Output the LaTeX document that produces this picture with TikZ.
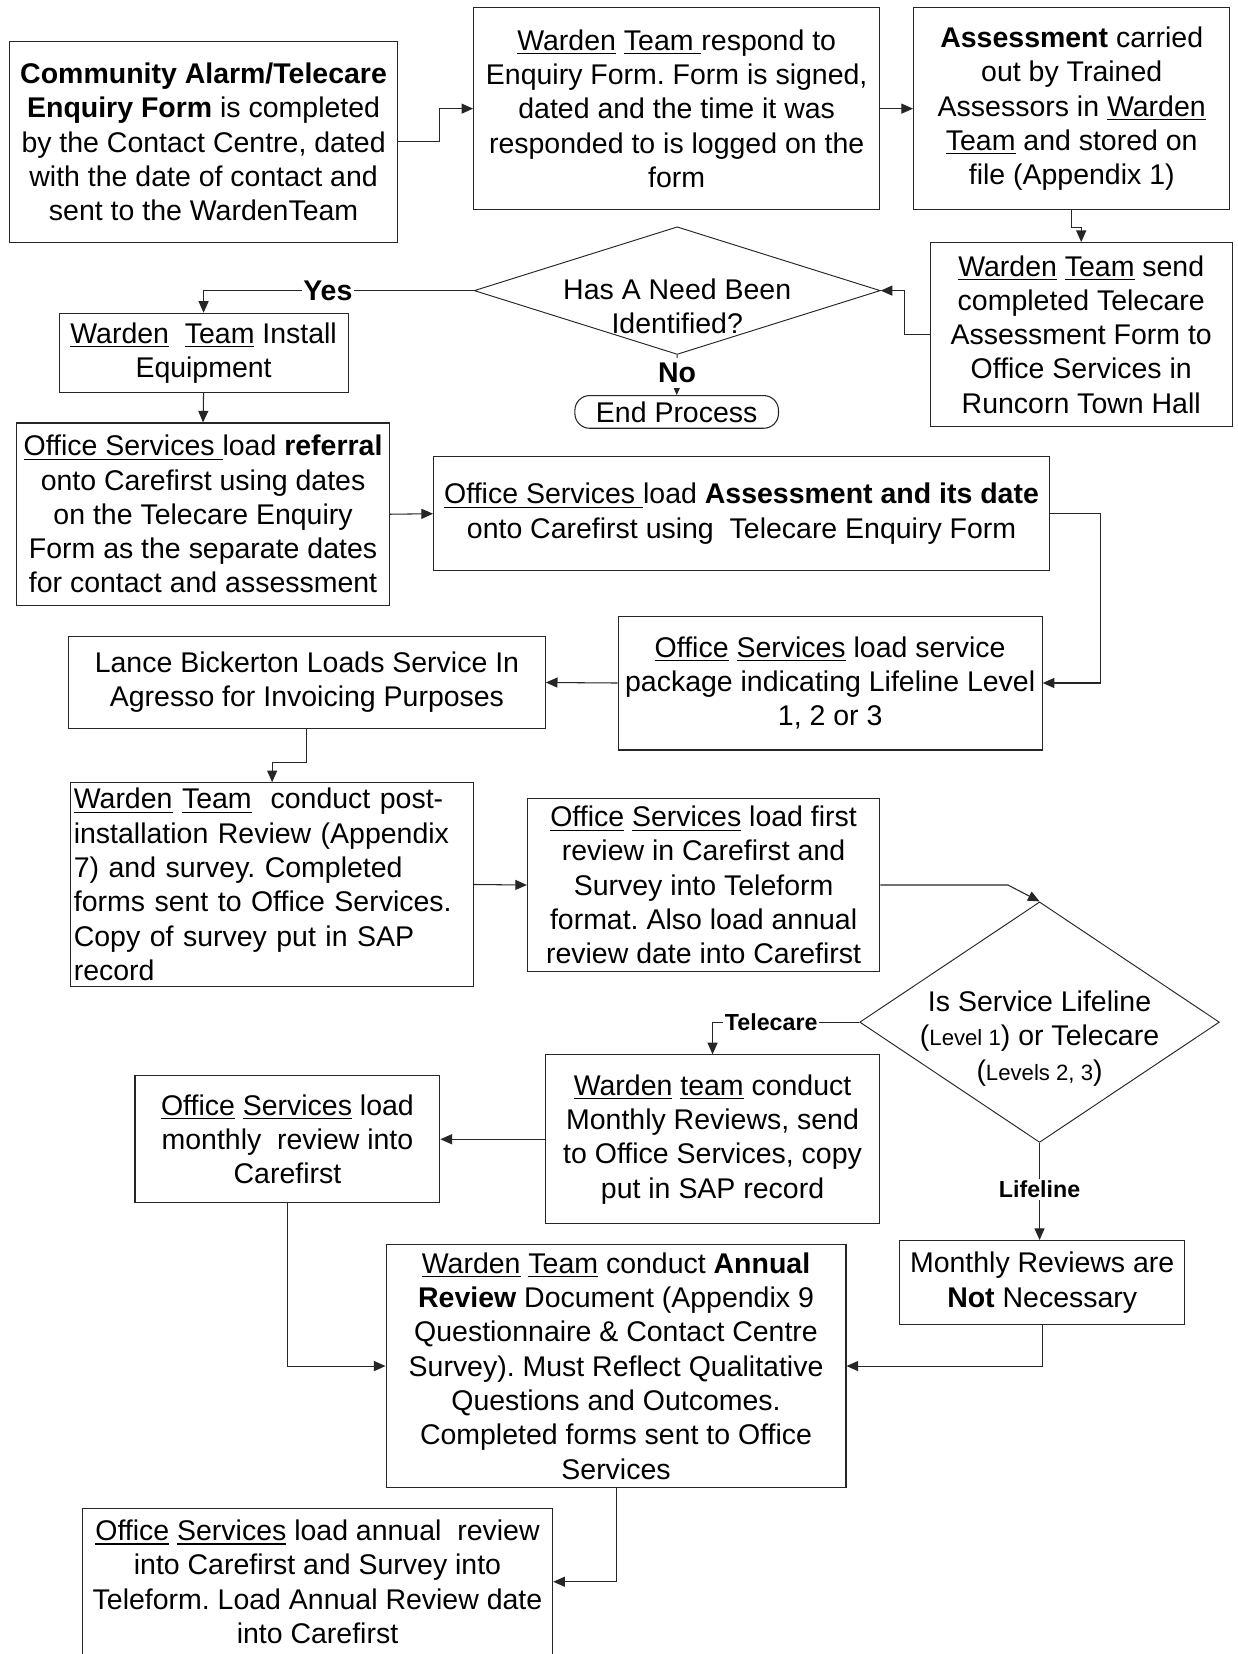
\documentclass[tikz,border=0pt]{standalone}
\usepackage{fontspec}
\setmainfont{Liberation Sans}
\usetikzlibrary{arrows.meta,shapes.geometric}
\frenchspacing
\newcommand{\mainfs}{\fontsize{27}{32.5}\selectfont}
\newcommand{\smallfs}{\fontsize{21}{25}\selectfont}
\newcommand{\uln}[1]{\leavevmode\vtop{\hbox{#1}\kern2.5pt\hrule height 1.1pt}}
\tikzset{
  box/.style={draw=black!85, line width=1pt, rectangle, inner sep=0pt, align=center, font=\mainfs},
  dia/.style={diamond, draw=black!85, line width=0.9pt, inner sep=0pt},
  arr/.style={draw=black!85, line width=1pt, -{Triangle[length=11pt,width=9.5pt]}},
  lab/.style={fill=white, inner sep=1.5pt, font=\bfseries\mainfs},
  slab/.style={fill=white, inner sep=1.5pt, font=\bfseries\fontsize{22}{26}\selectfont},
}
\begin{document}
\begin{tikzpicture}[x=1pt,y=-1pt]
\useasboundingbox (0,0) rectangle (1173,1568);
\fill[white] (0,0) rectangle (1173,1568);

\node[box, minimum width=368pt, minimum height=191pt] (A) at (193,134.5)
  {\textbf{Community Alarm/Telecare}\\ \textbf{Enquiry Form} is completed\\ by the Contact Centre, dated\\ with the date of contact and\\ sent to the WardenTeam};
\node[box, minimum width=385pt, minimum height=192pt] (B) at (641.5,103)
  {\uln{Warden} \uln{Team\ }respond to\\ Enquiry Form. Form is signed,\\ dated and the time it was\\ responded to is logged on the\\ form};
\node[box, minimum width=300pt, minimum height=192pt] (C) at (1016,103)
  {\textbf{Assessment} carried\\ out by Trained\\ Assessors in \uln{Warden}\\ \uln{Team} and stored on\\ file (Appendix 1)};
\node[box, minimum width=286pt, minimum height=174pt] (D) at (1025,317)
  {\uln{Warden} \uln{Team} send\\ completed Telecare\\ Assessment Form to\\ Office Services in\\ Runcorn Town Hall};

\node[dia, minimum width=385pt, minimum height=121pt] (d1) at (642,275.5) {};
\node[font=\mainfs, align=center] (d1t) at (642,290.5) {Has A Need Been\\ Identified?};

\node[box, minimum width=274pt, minimum height=75pt] (E) at (193,334.5)
  {\uln{Warden}\ \ \uln{Team} Install\\ Equipment};
\node[box, rounded corners=14pt, minimum width=193pt, minimum height=31pt] (End) at (641.5,390.5) {End Process};

\node[box, minimum width=353pt, minimum height=173pt] (F) at (192.5,487.5)
  {\uln{Office Services\ }load \textbf{referral}\\ onto Carefirst using dates\\ on the Telecare Enquiry\\ Form as the separate dates\\ for contact and assessment};
\node[box, minimum width=584pt, minimum height=108pt] (G) at (703,487)
  {\uln{Office Services\ }load \textbf{Assessment and its date}\\ onto Carefirst using\ \ Telecare Enquiry Form};
\node[box, minimum width=402pt, minimum height=127pt] (H) at (787,647.5)
  {\uln{Office} \uln{Services} load service\\ package indicating Lifeline Level\\ 1, 2 or 3};
\node[box, minimum width=452pt, minimum height=88pt] (I) at (291,647)
  {Lance Bickerton Loads Service In\\ Agresso for Invoicing Purposes};
\node[box, align=left, text width=376pt, inner xsep=3pt, minimum width=382pt, minimum height=193pt] (J) at (258,838.5)
  {\uln{Warden} \uln{Team}\ \ conduct post-\\ installation Review (Appendix\\ 7) and survey. Completed\\ forms sent to Office Services.\\ Copy of survey put in SAP\\ record};
\node[box, minimum width=334pt, minimum height=164pt] (K) at (667,839)
  {\uln{Office} \uln{Services} load first\\ review in Carefirst and\\ Survey into Teleform\\ format. Also load annual\\ review date into Carefirst};

\node[dia, minimum width=341pt, minimum height=228pt] (d2) at (985.5,969) {};
\node[font=\mainfs, align=center] (d2t) at (985.5,984.5)
  {Is Service Lifeline\\ ({\smallfs Level 1}) or Telecare\\ ({\smallfs Levels 2, 3})};

\node[box, minimum width=317pt, minimum height=160pt] (L) at (675.5,1080)
  {\uln{Warden} \uln{team} conduct\\ Monthly Reviews, send\\ to Office Services, copy\\ put in SAP record};
\node[box, minimum width=289pt, minimum height=120pt] (M) at (272.5,1080)
  {\uln{Office} \uln{Services} load\\ monthly\ \ review into\\ Carefirst};
\node[box, minimum width=270pt, minimum height=80pt] (N) at (988,1216)
  {Monthly Reviews are\\ \textbf{Not} Necessary};
\node[box, minimum width=436pt, minimum height=230pt] (O) at (584,1295)
  {\uln{Warden} \uln{Team} conduct \textbf{Annual}\\ \textbf{Review} Document (Appendix 9\\ Questionnaire \& Contact Centre\\ Survey). Must Reflect Qualitative\\ Questions and Outcomes.\\ Completed forms sent to Office\\ Services};
\node[box, minimum width=446pt, minimum height=139pt] (P) at (301,1499.5)
  {\uln{Office} \uln{Services} load annual\ \ review\\ into Carefirst and Survey into\\ Teleform. Load Annual Review date\\ into Carefirst};

% connectors
\draw[arr] (A.east) -- ++(39,0) |- (B.west);
\draw[arr] (B.east) -- (C.west);
\draw[arr] (C.south) -- ++(0,16) -| (D.north);
\draw[arr] (D.west) -- ++(-24,0) |- (d1.east);
\draw[arr] (d1.west) -| node[lab, pos=0.27] {Yes} (E.north);
\draw[arr] (d1.south) -- node[lab, pos=0.45, inner ysep=5pt] {No} (End.north);
\draw[arr] (E.south) -- (F.north);
\draw[arr] (F.east) -- (G.west);
\draw[arr] (G.east) -- ++(48,0) |- (H.east);
\draw[arr] (H.west) -- (I.east);
\draw[arr] (I.south) -- ++(0,31) -| (J.north);
\draw[arr] (J.east) -- (K.west);
\draw[arr] (K.east) -- ++(121,0) -- (d2.north);
\draw[arr] (d2.west) -| node[slab, pos=0.3] {Telecare} (L.north);
\draw[arr] (d2.south) -- node[slab, pos=0.48] {Lifeline} (d2.south |- N.north);
\draw[arr] (L.west) -- (M.east);
\draw[arr] (M.south) |- (O.west);
\draw[arr] (N.south) |- (O.east);
\draw[arr] (O.south) |- (P.east);
\end{tikzpicture}
\end{document}
